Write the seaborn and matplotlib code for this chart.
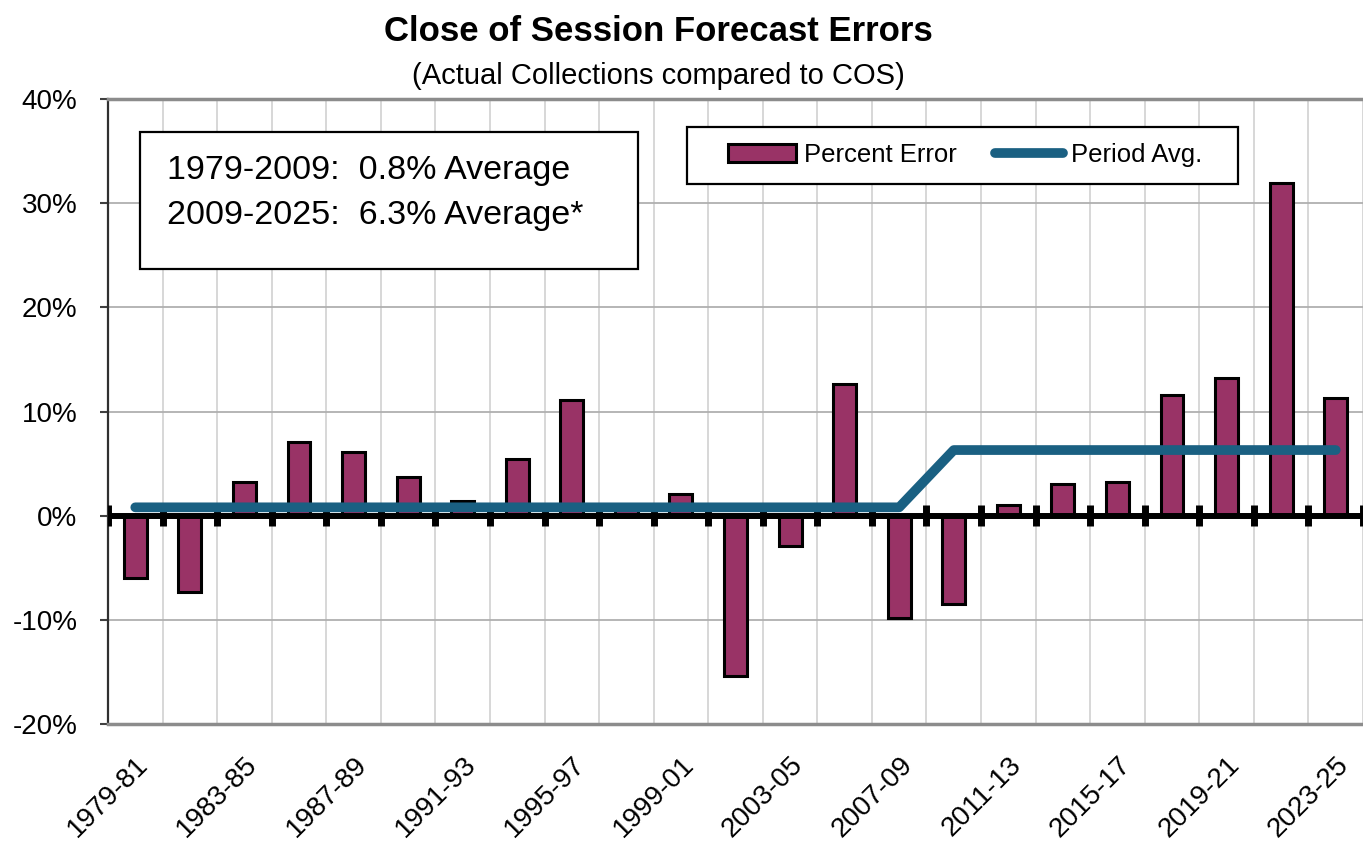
import numpy as np
import pandas as pd
import matplotlib
matplotlib.use("Agg")
import matplotlib.pyplot as plt
import seaborn as sns
from matplotlib.patches import Rectangle
from matplotlib.lines import Line2D
from matplotlib.ticker import FuncFormatter, FixedLocator

# ---------------- data ----------------
biennia = ["1979-81", "1981-83", "1983-85", "1985-87", "1987-89", "1989-91",
           "1991-93", "1993-95", "1995-97", "1997-99", "1999-01", "2001-03",
           "2003-05", "2005-07", "2007-09", "2009-11", "2011-13", "2013-15",
           "2015-17", "2017-19", "2019-21", "2021-23", "2023-25"]
pct_error = [-6.0, -7.3, 3.2, 7.1, 6.1, 3.7, 1.4, 5.4, 11.1, 1.0, 2.1, -15.4,
             -2.9, 12.6, -9.8, -8.5, 1.0, 3.0, 3.2, 11.6, 13.2, 31.9, 11.3]
period_avg = [0.8, 0.8, 0.8, 0.8, 0.8, 0.8, 0.8, 0.8, 0.8, 0.8, 0.8, 0.8,
              0.8, 0.8, 0.8, 6.3, 6.3, 6.3, 6.3, 6.3, 6.3, 6.3, 6.3]
y_ticks = [-20, -10, 0, 10, 20, 30, 40]
box_lines = ["1979-2009:  0.8% Average", "2009-2025:  6.3% Average*"]
legend_labels = ["Percent Error", "Period Avg."]
title = "Close of Session Forecast Errors"
subtitle = "(Actual Collections compared to COS)"

df = pd.DataFrame({"biennium": biennia, "error": pct_error, "avg": period_avg})

# ---------------- style ----------------
sns.set_theme(style="white")
plt.rcParams["font.family"] = ["Liberation Sans", "DejaVu Sans"]
plt.rcParams["text.color"] = "black"
plt.rcParams["xtick.color"] = "black"
plt.rcParams["ytick.color"] = "black"
plt.rcParams["axes.labelcolor"] = "black"

BAR = "#993366"
LINE = "#1a6082"

fig = plt.figure(figsize=(13.63, 8.41), dpi=100)
ax = fig.add_axes([108 / 1363, 117 / 841, 1255 / 1363, 625 / 841])

sns.barplot(data=df, x="biennium", y="error", order=biennia, color=BAR,
            saturation=1, width=0.42, edgecolor="black", linewidth=2.2,
            ax=ax, zorder=3)

xpos = np.arange(len(biennia))
ax.plot(xpos, df["avg"], color=LINE, lw=7, solid_capstyle="round",
        solid_joinstyle="round", zorder=5)

ax.set_xlim(-0.5, len(biennia) - 0.5)
ax.set_ylim(-20, 40)

# zero line with crossing tick marks at category boundaries
ax.axhline(0, color="black", lw=4.3, zorder=4)
ax.vlines(np.arange(len(biennia) + 1) - 0.5, -1.0, 1.0, color="black",
          lw=5, zorder=4)

# grid
ax.yaxis.set_major_locator(FixedLocator(y_ticks))
ax.yaxis.set_major_formatter(FuncFormatter(lambda v, p: f"{v:.0f}%"))
ax.xaxis.set_minor_locator(FixedLocator(np.arange(len(biennia) + 1) - 0.5))
ax.grid(axis="y", which="major", color="#b0b0b0", lw=1.3, zorder=0)
ax.grid(axis="x", which="minor", color="#d4d4d4", lw=1.3, zorder=0)
ax.grid(axis="x", which="major", visible=False)
ax.set_axisbelow(True)

# x tick labels: every other biennium
ax.set_xticks(xpos[::2])
ax.set_xticklabels(biennia[::2], rotation=45, ha="right",
                   rotation_mode="anchor", fontsize=20)
ax.tick_params(axis="x", which="both", length=0, pad=20)
ax.tick_params(axis="y", which="major", length=6, width=1.5, color="#404040",
               left=True, labelsize=20, pad=16, direction="out")
ax.set_xlabel("")
ax.set_ylabel("")

for s in ["top", "bottom"]:
    ax.spines[s].set_color("#8c8c8c")
    ax.spines[s].set_linewidth(2.5)
ax.spines["left"].set_color("#303030")
ax.spines["left"].set_linewidth(1.6)
ax.spines["right"].set_visible(False)

# annotation box
ax.add_patch(Rectangle((0.0255, 0.728), 0.397, 0.219, transform=ax.transAxes,
                       facecolor="white", edgecolor="black", lw=1.6, zorder=6))
ax.text(0.047, 0.886, box_lines[0], transform=ax.transAxes, fontsize=24.5,
        va="center", ha="left", zorder=7)
ax.text(0.047, 0.814, box_lines[1], transform=ax.transAxes, fontsize=24.5,
        va="center", ha="left", zorder=7)

# legend (frame drawn separately to match the wide padding)
ax.add_patch(Rectangle((0.4614, 0.864), 0.439, 0.0912, transform=ax.transAxes,
                       facecolor="white", edgecolor="black", lw=1.6, zorder=6))
handles = [Rectangle((0, 0), 1, 1, facecolor=BAR, edgecolor="black", lw=2.2),
           Line2D([0], [0], color=LINE, lw=7, solid_capstyle="round")]
leg = ax.legend(handles, legend_labels, ncol=2,
                loc="center left", bbox_to_anchor=(0.494, 0.9104),
                fontsize=18.5, frameon=False, handlelength=2.65,
                handleheight=0.7, handletextpad=0.3, columnspacing=1.5,
                borderpad=0, borderaxespad=0)
leg.set_zorder(8)

# titles
fig.text(0.483, 0.963, title, ha="center", va="center", fontsize=25,
         fontweight="bold")
fig.text(0.483, 0.910, subtitle, ha="center", va="center", fontsize=21)

fig.savefig("out.png", dpi=100)
